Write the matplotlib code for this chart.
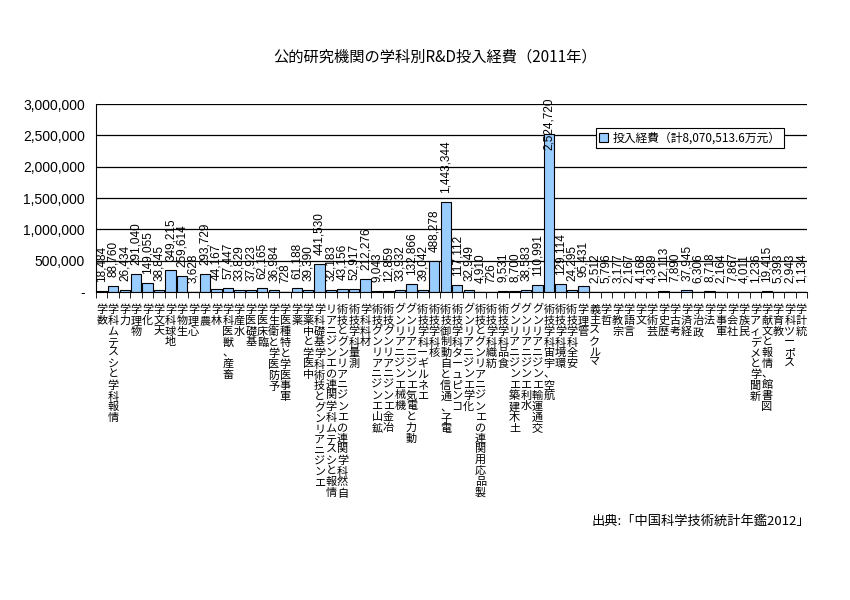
import matplotlib
matplotlib.use('Agg')
import matplotlib.pyplot as plt
from matplotlib.ticker import FixedLocator, FuncFormatter

plt.rcParams['font.family'] = ['Noto Sans CJK JP', 'DejaVu Sans']

# 学科と投入経費（万元）
categories = [
    '数学', '情報科学とシステム科学', '力学', '物理学', '化学', '天文学',
    '地球科学', '生物学', '心理学', '農学', '林学', '畜産、獣医科学',
    '水産学', '基礎医学', '臨床医学', '予防医学と衛生学', '軍事医学と特種医学',
    '薬学', '中医学と中薬学', 'エンジニアリングと技術科学基礎科学',
    '情報とシステム科学関連のエンジニアリング', '自然科学関連のエンジニアリングと技術',
    '測量科学技術', '材料科学', '鉱山エンジニアリング技術', '冶金エンジニアリング技術',
    '機械エンジニアリング', '動力と電気エンジニアリング', 'エネルギー科学技術',
    '核科学技術', '電子、通信と自動制御技術', 'コンピュータ科学技術',
    '化学エンジニアリング', '製品応用関連のエンジニアリングと技術', '紡織科学技術',
    '食品科学技術', '土木建築エンジニアリング', '水利エンジニアリング',
    '交通運輸エンジニアリング', '航空、宇宙科学技術', '環境科学技術', '安全科学技術',
    '管理学', 'マルクス主義', '哲学', '宗教学', '言語学', '文学', '芸術学',
    '歴史学', '考古学', '経済学', '政治学', '法学', '軍事学', '社会学', '民族学',
    '新聞学とメディア学', '図書館、情報と文献学', '教育学', 'スポーツ科学', '統計学',
]
values = [
    18484, 88760, 26434, 291040, 149055, 38845,
    349215, 259614, 3628, 293729, 44167, 57447,
    33829, 37923, 62165, 36984, 728,
    61188, 39390, 441530,
    32183, 43156,
    52917, 212276, 9043, 12859,
    33932, 132866, 39042,
    488278, 1443344, 117112,
    32949, 4910, 726,
    9531, 8700, 38583,
    110991, 2524720, 129114, 24295,
    95431, 2512, 5796, 3177, 2167, 4168, 4389,
    12113, 7890, 37945, 6306, 8718, 2164, 7867, 4011,
    1236, 19415, 5393, 2943, 1134,
]
legend_label = '投入経費（計8,070,513.6万元）'
title = '公的研究機関の学科別R&D投入経費（2011年）'
source = '出典:「中国科学技術統計年鑑2012」'

fig = plt.figure(figsize=(8.5, 6), dpi=100)
ax = fig.add_axes([96 / 850, 308 / 600, 711 / 850, 188 / 600])

x = list(range(len(categories)))
ax.bar(x, values, width=0.9, color='#99CCFF', edgecolor='black',
       linewidth=0.8, label=legend_label, zorder=2)

ax.set_xlim(-0.5, len(categories) - 0.5)
ax.set_ylim(0, 3000000)
ax.yaxis.set_major_locator(FixedLocator([i * 500000 for i in range(7)]))
ax.yaxis.set_major_formatter(FuncFormatter(lambda v, p: '-' if v == 0 else f'{v:,.0f}'))
ax.tick_params(axis='y', length=0, pad=8)
for t in ax.get_yticklabels():
    t.set_family(['Liberation Sans'])
    t.set_fontsize(10)
ax.yaxis.grid(True, color='black', linewidth=0.9)
ax.set_axisbelow(True)

# 縦書きラベル（下から上へ読む、表示は18文字まで）
ax.set_xticks(x)
ax.set_xticklabels(['\n'.join(reversed(c[:18])) for c in categories],
                   fontsize=8, linespacing=1.09, va='top')
ax.tick_params(axis='x', which='major', length=0, pad=9)
ax.xaxis.set_minor_locator(FixedLocator([i - 0.5 for i in range(len(categories) + 1)]))
ax.tick_params(axis='x', which='minor', length=4, direction='out', color='black')

for s in ['top', 'right']:
    ax.spines[s].set_visible(False)
ax.spines['left'].set_color('black')
ax.spines['bottom'].set_color('black')

labels = []
for xi, v in zip(x, values):
    t = ax.annotate(f'{v:,}', (xi, v), xytext=(0, 6.5), textcoords='offset points',
                    rotation=90, ha='center', va='bottom', fontsize=8.5,
                    family=['Liberation Sans'], zorder=3)
    labels.append(t)

# はみ出すラベルは下へずらす
fig.canvas.draw()
r = fig.canvas.get_renderer()
limit = ax.transAxes.transform((0, 1))[1] + 7
for t in labels:
    bb = t.get_window_extent(r)
    if bb.y1 > limit:
        dx, dy = t.xyann
        t.xyann = (dx, dy - (bb.y1 - limit) * 72 / fig.dpi)

leg = ax.legend(loc='upper right', bbox_to_anchor=(784 / 850, 1 - 128 / 600),
                bbox_transform=fig.transFigure, fontsize=8.5, frameon=True,
                fancybox=False, edgecolor='black', framealpha=1, borderaxespad=0,
                handlelength=0.7, handleheight=0.7, handletextpad=0.4,
                borderpad=0.3)
leg.get_frame().set_linewidth(0.8)

fig.text(0.512, 1 - 57 / 600, title, ha='center', va='center', fontsize=11)
fig.text(810 / 850, 1 - 521 / 600, source, ha='right', va='center', fontsize=9.5)

fig.savefig('out.png', dpi=100)
